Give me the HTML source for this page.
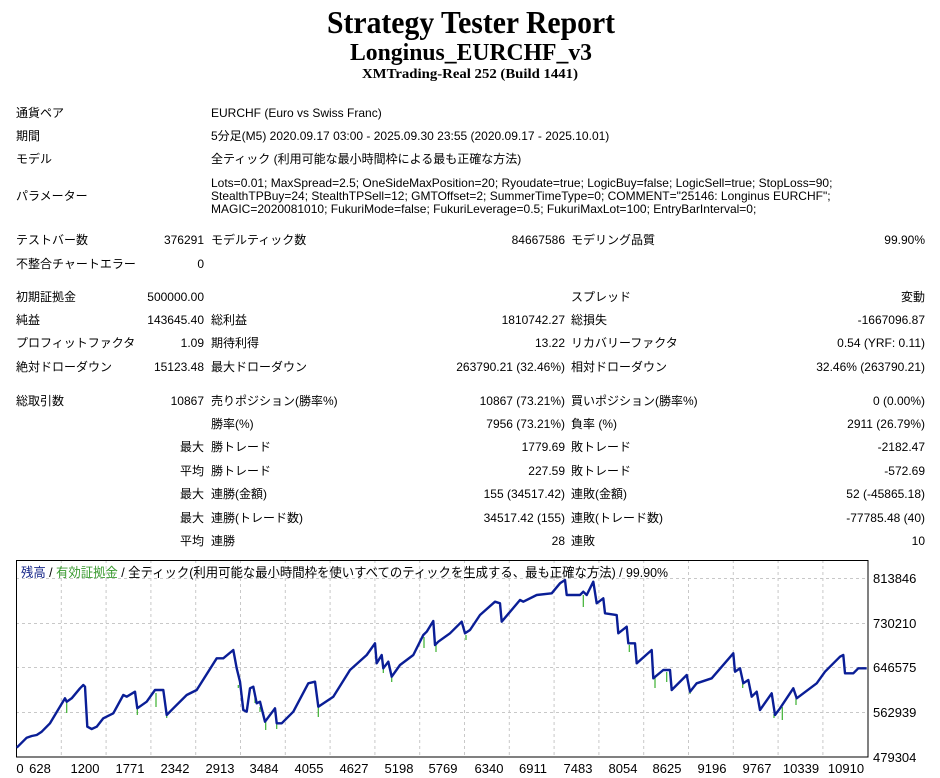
<!DOCTYPE html>
<html><head><meta charset="utf-8">
<style>
body{margin:0;width:940px;height:778px;background:#fff;overflow:hidden;position:relative;font-family:"Liberation Sans","Noto Sans CJK JP",sans-serif;font-size:12px;color:#000}
.c{position:absolute;white-space:nowrap;line-height:14px}
.r{text-align:right}
</style></head><body>
<svg style="position:absolute;left:0;top:0" width="940" height="90">
<text x="471" y="33" text-anchor="middle" font-family="Liberation Serif" font-weight="bold" font-size="32" textLength="288" lengthAdjust="spacingAndGlyphs">Strategy Tester Report</text>
<text x="471" y="60" text-anchor="middle" font-family="Liberation Serif" font-weight="bold" font-size="24" textLength="242" lengthAdjust="spacingAndGlyphs">Longinus_EURCHF_v3</text>
<text x="470" y="78" text-anchor="middle" font-family="Liberation Serif" font-weight="bold" font-size="14" textLength="216" lengthAdjust="spacingAndGlyphs">XMTrading-Real 252 (Build 1441)</text>
</svg>

<div class="c" style="left:16px;top:106px">通貨ペア</div>
<div class="c" style="left:211px;top:106px">EURCHF (Euro vs Swiss Franc)</div>
<div class="c" style="left:16px;top:129px">期間</div>
<div class="c" style="left:211px;top:129px">5分足(M5) 2020.09.17 03:00 - 2025.09.30 23:55 (2020.09.17 - 2025.10.01)</div>
<div class="c" style="left:16px;top:152px">モデル</div>
<div class="c" style="left:211px;top:152px">全ティック (利用可能な最小時間枠による最も正確な方法)</div>
<div class="c" style="left:16px;top:189px">パラメーター</div>
<div class="c" style="left:211px;top:177px;line-height:13px">Lots=0.01; MaxSpread=2.5; OneSideMaxPosition=20; Ryoudate=true; LogicBuy=false; LogicSell=true; StopLoss=90;<br>StealthTPBuy=24; StealthTPSell=12; GMTOffset=2; SummerTimeType=0; COMMENT="25146: Longinus EURCHF";<br>MAGIC=2020081010; FukuriMode=false; FukuriLeverage=0.5; FukuriMaxLot=100; EntryBarInterval=0;</div>

<div class="c" style="left:16px;top:233px">テストバー数</div>
<div class="c r" style="right:736px;top:233px">376291</div>
<div class="c" style="left:211px;top:233px">モデルティック数</div>
<div class="c r" style="right:375px;top:233px">84667586</div>
<div class="c" style="left:571px;top:233px">モデリング品質</div>
<div class="c r" style="right:15px;top:233px">99.90%</div>
<div class="c" style="left:16px;top:257px">不整合チャートエラー</div>
<div class="c r" style="right:736px;top:257px">0</div>

<div class="c" style="left:16px;top:290px">初期証拠金</div>
<div class="c r" style="right:736px;top:290px">500000.00</div>
<div class="c" style="left:571px;top:290px">スプレッド</div>
<div class="c r" style="right:15px;top:290px">変動</div>

<div class="c" style="left:16px;top:313px">純益</div>
<div class="c r" style="right:736px;top:313px">143645.40</div>
<div class="c" style="left:211px;top:313px">総利益</div>
<div class="c r" style="right:375px;top:313px">1810742.27</div>
<div class="c" style="left:571px;top:313px">総損失</div>
<div class="c r" style="right:15px;top:313px">-1667096.87</div>

<div class="c" style="left:16px;top:336px">プロフィットファクタ</div>
<div class="c r" style="right:736px;top:336px">1.09</div>
<div class="c" style="left:211px;top:336px">期待利得</div>
<div class="c r" style="right:375px;top:336px">13.22</div>
<div class="c" style="left:571px;top:336px">リカバリーファクタ</div>
<div class="c r" style="right:15px;top:336px">0.54 (YRF: 0.11)</div>

<div class="c" style="left:16px;top:360px">絶対ドローダウン</div>
<div class="c r" style="right:736px;top:360px">15123.48</div>
<div class="c" style="left:211px;top:360px">最大ドローダウン</div>
<div class="c r" style="right:375px;top:360px">263790.21 (32.46%)</div>
<div class="c" style="left:571px;top:360px">相対ドローダウン</div>
<div class="c r" style="right:15px;top:360px">32.46% (263790.21)</div>

<div class="c" style="left:16px;top:394px">総取引数</div>
<div class="c r" style="right:736px;top:394px">10867</div>
<div class="c" style="left:211px;top:394px">売りポジション(勝率%)</div>
<div class="c r" style="right:375px;top:394px">10867 (73.21%)</div>
<div class="c" style="left:571px;top:394px">買いポジション(勝率%)</div>
<div class="c r" style="right:15px;top:394px">0 (0.00%)</div>

<div class="c" style="left:211px;top:417px">勝率(%)</div>
<div class="c r" style="right:375px;top:417px">7956 (73.21%)</div>
<div class="c" style="left:571px;top:417px">負率 (%)</div>
<div class="c r" style="right:15px;top:417px">2911 (26.79%)</div>

<div class="c r" style="right:736px;top:440px">最大</div>
<div class="c" style="left:211px;top:440px">勝トレード</div>
<div class="c r" style="right:375px;top:440px">1779.69</div>
<div class="c" style="left:571px;top:440px">敗トレード</div>
<div class="c r" style="right:15px;top:440px">-2182.47</div>

<div class="c r" style="right:736px;top:464px">平均</div>
<div class="c" style="left:211px;top:464px">勝トレード</div>
<div class="c r" style="right:375px;top:464px">227.59</div>
<div class="c" style="left:571px;top:464px">敗トレード</div>
<div class="c r" style="right:15px;top:464px">-572.69</div>

<div class="c r" style="right:736px;top:487px">最大</div>
<div class="c" style="left:211px;top:487px">連勝(金額)</div>
<div class="c r" style="right:375px;top:487px">155 (34517.42)</div>
<div class="c" style="left:571px;top:487px">連敗(金額)</div>
<div class="c r" style="right:15px;top:487px">52 (-45865.18)</div>

<div class="c r" style="right:736px;top:511px">最大</div>
<div class="c" style="left:211px;top:511px">連勝(トレード数)</div>
<div class="c r" style="right:375px;top:511px">34517.42 (155)</div>
<div class="c" style="left:571px;top:511px">連敗(トレード数)</div>
<div class="c r" style="right:15px;top:511px">-77785.48 (40)</div>

<div class="c r" style="right:736px;top:534px">平均</div>
<div class="c" style="left:211px;top:534px">連勝</div>
<div class="c r" style="right:375px;top:534px">28</div>
<div class="c" style="left:571px;top:534px">連敗</div>
<div class="c r" style="right:15px;top:534px">10</div>

<svg style="position:absolute;left:0;top:555px" width="940" height="223" viewBox="0 555 940 223">
<g stroke="#c8c8c8" stroke-dasharray="3,3" stroke-width="1">
<line x1="16" x2="868" y1="578.5" y2="578.5"/><line x1="16" x2="868" y1="623.5" y2="623.5"/><line x1="16" x2="868" y1="667.5" y2="667.5"/><line x1="16" x2="868" y1="712.5" y2="712.5"/>
<line x1="61.3" x2="61.3" y1="560" y2="757"/><line x1="106.1" x2="106.1" y1="560" y2="757"/><line x1="150.9" x2="150.9" y1="560" y2="757"/><line x1="195.7" x2="195.7" y1="560" y2="757"/><line x1="240.5" x2="240.5" y1="560" y2="757"/><line x1="285.3" x2="285.3" y1="560" y2="757"/><line x1="330.1" x2="330.1" y1="560" y2="757"/><line x1="374.9" x2="374.9" y1="560" y2="757"/><line x1="419.7" x2="419.7" y1="560" y2="757"/><line x1="464.5" x2="464.5" y1="560" y2="757"/><line x1="509.3" x2="509.3" y1="560" y2="757"/><line x1="554.1" x2="554.1" y1="560" y2="757"/><line x1="598.9" x2="598.9" y1="560" y2="757"/><line x1="643.7" x2="643.7" y1="560" y2="757"/><line x1="688.5" x2="688.5" y1="560" y2="757"/><line x1="733.3" x2="733.3" y1="560" y2="757"/><line x1="778.1" x2="778.1" y1="560" y2="757"/><line x1="822.9" x2="822.9" y1="560" y2="757"/>
</g>
<rect x="16.5" y="560.5" width="851.5" height="196.5" fill="none" stroke="#000" stroke-width="1"/>
<g stroke="#3cb030" stroke-width="1.2">
<line x1="66.7" y1="701" x2="66.7" y2="713"/><line x1="137.3" y1="708" x2="137.3" y2="715"/><line x1="156" y1="693" x2="156" y2="707"/><line x1="166.7" y1="715" x2="166.7" y2="718"/><line x1="238.3" y1="685" x2="238.3" y2="688"/><line x1="255" y1="698" x2="255" y2="703"/><line x1="260" y1="707" x2="260" y2="712"/><line x1="265.7" y1="722" x2="265.7" y2="730"/><line x1="276.7" y1="723" x2="276.7" y2="729"/><line x1="318.3" y1="707" x2="318.3" y2="717"/><line x1="383.3" y1="668" x2="383.3" y2="673"/><line x1="391.7" y1="677" x2="391.7" y2="682"/><line x1="424" y1="637" x2="424" y2="648"/><line x1="436" y1="645" x2="436" y2="652"/><line x1="466" y1="635" x2="466" y2="640"/>
<line x1="583.3" y1="595" x2="583.3" y2="607"/><line x1="629.3" y1="645" x2="629.3" y2="652"/><line x1="655" y1="678" x2="655" y2="688"/><line x1="666.7" y1="672" x2="666.7" y2="682"/><line x1="690" y1="690" x2="690" y2="694"/><line x1="742.7" y1="683" x2="742.7" y2="688"/><line x1="774" y1="714" x2="774" y2="718"/><line x1="782.3" y1="707" x2="782.3" y2="720"/><line x1="796" y1="698" x2="796" y2="705"/>
</g>
<polyline fill="none" stroke="#0a1e96" stroke-width="2.4" stroke-linejoin="round" points="16.7,747.7 26.7,737.7 31.7,736 36.7,735 41.7,731.7 50,723.3 65,698.3 66.7,701.7 71.7,698.3 80,688.3 83.3,685 85,686.7 87.3,726.7 91.7,729 96.7,726.7 103.3,718.3 113.3,713.3 123.3,695 126.7,696.7 135,691.7 137.3,708.3 146.7,701.7 155,690 163.3,690 166.7,715 173.3,708.3 186.7,695 196.7,690 216.7,658.3 223.3,658.3 233.3,650 236.7,668.3 240,681.7 243.3,710 246.7,711.7 250,688.3 253.3,686.7 256.7,703.3 260,701.7 265,721.7 275,708.3 276.7,723.3 281.7,723.3 293.3,711.7 308.3,683.3 315,681.7 318.3,706.7 333.3,696.7 350,670 366.7,655 375,643.3 376.7,663.3 381.7,655 383.3,668.3 388.3,661.7 391.7,676.7 400,665 413.3,655 423.3,635 426.7,631.7 433.3,621 435,645 438.3,641.7 450,633.3 461.7,621.7 465,633.3 470,630 480,615 495,601.7 500,603.3 501.7,621.7 520,600 523.3,601.7 536.7,595 551.7,593.3 560,583.3 565,580 566.7,595 580,595 583.3,591.7 586.7,595 593.3,581.7 596.7,603.3 603.3,598.3 605,613.3 616.7,615 618.3,633.3 626.7,626.7 628.3,643.3 635,643.3 636.7,663.3 651.7,650 653.3,678.3 663.3,670 670,670 671.7,690 686.7,675 690,691.7 696.7,683.3 711.7,678.3 733.3,653.3 735,671.7 740,668.3 743.3,683.3 748.3,680 751.7,696.7 756.7,691.7 760,710 771.7,693.3 775,715 780,708.3 793.3,688.3 796.7,698.3 816.7,683.3 825,671.7 840,656.7 843.3,655 845,673.3 853.3,673.3 858.3,668.3 866.7,668.3"/>
<g font-family="Liberation Sans, DejaVu Sans, sans-serif" font-size="13" fill="#000">
<text x="873" y="583">813846</text><text x="873" y="628">730210</text><text x="873" y="672">646575</text><text x="873" y="717">562939</text><text x="873" y="762">479304</text>
<g text-anchor="middle">
<text x="20" y="773">0</text><text x="40" y="773">628</text><text x="85" y="773">1200</text><text x="130" y="773">1771</text><text x="175" y="773">2342</text><text x="220" y="773">2913</text><text x="264" y="773">3484</text><text x="309" y="773">4055</text><text x="354" y="773">4627</text><text x="399" y="773">5198</text><text x="443" y="773">5769</text><text x="489" y="773">6340</text><text x="533" y="773">6911</text><text x="578" y="773">7483</text><text x="623" y="773">8054</text><text x="667" y="773">8625</text><text x="712" y="773">9196</text><text x="757" y="773">9767</text><text x="801" y="773">10339</text><text x="846" y="773">10910</text>
</g>
</g>
<text x="21" y="577" font-family="Liberation Sans, Noto Sans CJK JP, sans-serif" font-size="13" textLength="647" lengthAdjust="spacingAndGlyphs"><tspan fill="#1a2a8a">残高</tspan><tspan fill="#000"> / </tspan><tspan fill="#3a9a30">有効証拠金</tspan><tspan fill="#000"> / 全ティック(利用可能な最小時間枠を使いすべてのティックを生成する、最も正確な方法) / 99.90%</tspan></text>
</svg>
</body></html>
